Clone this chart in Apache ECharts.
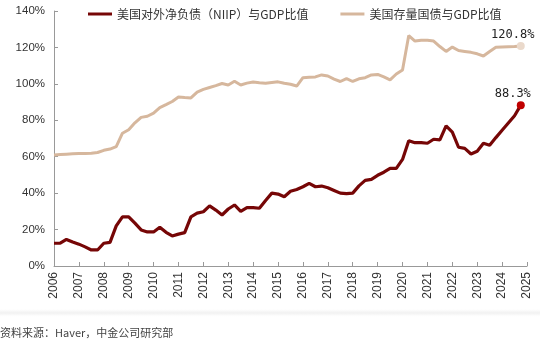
<!DOCTYPE html>
<html><head><meta charset="utf-8">
<script src="https://cdn.jsdelivr.net/npm/echarts@6/dist/echarts.min.js"></script>
<style>html,body{margin:0;padding:0;background:#fff}#c{width:540px;height:340px}</style>
</head><body><div id="c"></div>
<script>
const startYear = 2006;
const quarterStep = 0.25;
const seriesNames = ['美国对外净负债（NIIP）与GDP比值', '美国存量国债与GDP比值'];
const niip = [12.5,12.5,14.6,13.2,12,10.5,8.8,8.8,12.5,13,22,27,27,23.5,19.8,18.7,18.7,21.3,18.5,16.5,
  17.5,18.3,27,29,29.8,33,30.7,28,31.3,33.5,30,32,32,31.7,36,40,39.5,38,41,42,
  43.5,45.4,43.5,43.9,43,41.5,40,39.7,40,44,47,47.6,49.8,51.5,53.6,53.6,58.5,68.8,67.7,67.7,
  67.4,69.6,69.2,76.9,73.5,65.2,64.6,61.5,63,67.4,66.3,70.5,74.5,78.5,82.5,88.3];
const debt = [61,61.2,61.4,61.6,61.7,61.8,61.9,62.3,63.5,64.2,65.5,72.9,74.8,78.6,81.6,82.2,83.9,87,88.6,90.3,
  92.8,92.5,92.3,95.5,97,98,99,100.2,99.4,101.4,99.4,100.4,101,100.6,100.3,100.7,101.1,100.3,99.8,98.8,
  103.4,103.6,103.8,104.9,104.3,102.6,101.3,102.9,101.3,102.8,103.4,104.9,105.2,103.8,102.2,105.4,107.6,126.5,123.5,124,
  123.9,123.5,120.5,117.8,120.2,118.3,117.8,117.3,116.5,115.3,117.8,120.1,120.3,120.4,120.5,120.8];
const yTicks = [0,20,40,60,80,100,120,140];
const xYears = [2006,2025];
const sourceText = '资料来源：Haver，中金公司研究部';

function toPairs(arr){ return arr.map((v,i)=>[startYear + i*quarterStep, v]); }
function endLabel(arr, color){
  const last = arr.length-1;
  return toPairs(arr).map((p,i)=> i===last ? {value:p, symbol:'circle', symbolSize:8,
    itemStyle:{color:color}, label:{show:true, position:'top', offset:[-8,4], formatter: arr[last].toFixed(1)+'%', color:'#222', fontSize:12, fontFamily:'DejaVu Sans Mono'}} : p);
}

const chart = echarts.init(document.getElementById('c'), null, {renderer:'canvas'});
chart.setOption({
  animation:false,
  grid:{left:54, right:13, top:11, bottom:74},
  legend:{top:3, left:83, itemWidth:24, itemHeight:3, itemGap:32, icon:'rect',
    textStyle:{fontSize:12, color:'#333', fontFamily:'Noto Sans CJK SC'}, data:seriesNames},
  xAxis:{type:'value', min:xYears[0], max:xYears[1], interval:1,
    axisLine:{lineStyle:{color:'#999'}}, axisTick:{inside:true, length:4, lineStyle:{color:'#999'}},
    splitLine:{show:false},
    axisLabel:{rotate:90, fontSize:12, color:'#333', fontFamily:'Liberation Sans', margin:6, formatter:v=>String(v)}},
  yAxis:{type:'value', min:yTicks[0], max:yTicks[yTicks.length-1], interval:20,
    axisLine:{show:true, lineStyle:{color:'#999'}}, axisTick:{show:true, inside:true, length:4, lineStyle:{color:'#999'}},
    splitLine:{show:false},
    axisLabel:{fontSize:11.5, color:'#333', fontFamily:'Liberation Sans', margin:9, formatter:'{value}%'}},
  series:[
    {name:seriesNames[0], type:'line', data:endLabel(niip,'#c00000'), symbol:'none', z:3,
      lineStyle:{color:'#760606', width:3.2}, itemStyle:{color:'#760606'}},
    {name:seriesNames[1], type:'line', data:endLabel(debt,'#ead9cb'), symbol:'none', z:2,
      lineStyle:{color:'#d6b79d', width:3}, itemStyle:{color:'#d6b79d'}}
  ],
  graphic:[
    {type:'rect', left:0, top:309, shape:{width:540, height:8},
      style:{fill:new echarts.graphic.LinearGradient(0,0,0,1,[{offset:0,color:'rgba(235,235,235,0)'},{offset:0.5,color:'rgba(232,232,232,0.6)'},{offset:1,color:'rgba(245,245,245,0)'}])}},
    {type:'text', left:0, top:327, style:{text:sourceText, fontSize:11, fill:'#444', fontFamily:'Noto Sans CJK SC'}}
  ]
});
</script></body></html>
